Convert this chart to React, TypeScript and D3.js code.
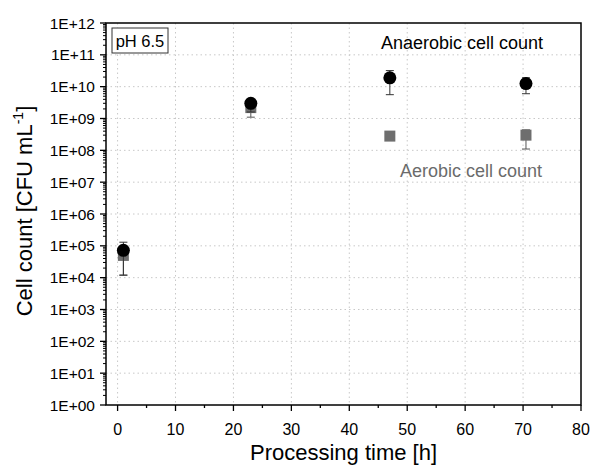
import React from "react";
import * as d3 from "d3";

const width = 592;
const height = 471;
const margin = { top: 23, right: 11, bottom: 66, left: 106 };

const times = [1, 23, 47, 70.5];
const anaerobic = [7.2e4, 3.0e9, 1.9e10, 1.25e10];
const anaerobicLow = [1.2e4, 1.6e9, 5.6e9, 6.0e9];
const anaerobicHigh = [1.3e5, 3.6e9, 3.2e10, 1.9e10];
const aerobic = [5.0e4, 2.2e9, 2.8e8, 3.0e8];
const aerobicLow = [1.2e4, 1.1e9, 2.6e8, 1.1e8];
const aerobicHigh = [8.0e4, 2.6e9, 3.0e8, 4.4e8];
const xTicks = [0, 10, 20, 30, 40, 50, 60, 70, 80];
const yExponents = d3.range(0, 13);

const font = "'Liberation Sans', Arial, sans-serif";

const App = () => {
  const x = d3
    .scaleLinear()
    .domain([-2, 80])
    .range([margin.left, width - margin.right]);
  const y = d3
    .scaleLog()
    .domain([1, 1e12])
    .range([height - margin.bottom, margin.top]);

  const bottom = height - margin.bottom;
  const minors = [];
  yExponents.slice(0, -1).forEach(e => {
    for (let k = 2; k <= 9; k++) minors.push(k * Math.pow(10, e));
  });
  const xMinors = d3.range(5, 80, 10);
  const fmt = e => "1E+" + (e < 10 ? "0" + e : e);

  return (
    <svg width={width} height={height} style={{ position: "absolute", left: 0, top: 0 }}>
      <rect width={width} height={height} fill="#fff" />
      {/* grid */}
      {xTicks.slice(0, -1).map(t => (
        <line key={"gx" + t} x1={x(t)} x2={x(t)} y1={margin.top} y2={bottom}
          stroke="#c8c8c8" strokeDasharray="1.5,3" />
      ))}
      {yExponents.slice(1, -1).map(e => (
        <line key={"gy" + e} x1={margin.left} x2={width - margin.right}
          y1={y(Math.pow(10, e))} y2={y(Math.pow(10, e))}
          stroke="#c8c8c8" strokeDasharray="1.5,3" />
      ))}
      {/* frame */}
      <rect x={margin.left} y={margin.top} width={width - margin.right - margin.left}
        height={bottom - margin.top} fill="none" stroke="#000" strokeWidth={1.5} />
      {/* x ticks */}
      {xTicks.map(t => (
        <g key={"xt" + t}>
          <line x1={x(t)} x2={x(t)} y1={bottom} y2={bottom + 6} stroke="#000" strokeWidth={1.3} />
          <text x={x(t)} y={bottom + 30} textAnchor="middle" fontFamily={font} fontSize={16}>{t}</text>
        </g>
      ))}
      {xMinors.map(t => (
        <line key={"xm" + t} x1={x(t)} x2={x(t)} y1={bottom} y2={bottom + 3} stroke="#000" strokeWidth={1.3} />
      ))}
      {/* y ticks */}
      {yExponents.map(e => (
        <g key={"yt" + e}>
          <line x1={margin.left - 6} x2={margin.left} y1={y(Math.pow(10, e))} y2={y(Math.pow(10, e))}
            stroke="#000" strokeWidth={1.3} />
          <text x={margin.left - 11} y={y(Math.pow(10, e)) + 5.5} textAnchor="end" fontFamily={font} fontSize={15.5}>
            {fmt(e)}
          </text>
        </g>
      ))}
      {minors.map((v, i) => (
        <line key={"ym" + i} x1={margin.left - 3} x2={margin.left} y1={y(v)} y2={y(v)} stroke="#000" strokeWidth={1} />
      ))}
      {/* aerobic */}
      {times.map((t, i) => (
        <g key={"ae" + i} stroke="#555" strokeWidth={1}>
          <line x1={x(t)} x2={x(t)} y1={y(aerobicLow[i])} y2={y(aerobicHigh[i])} />
          <line x1={x(t) - 4} x2={x(t) + 4} y1={y(aerobicLow[i])} y2={y(aerobicLow[i])} />
          <line x1={x(t) - 4} x2={x(t) + 4} y1={y(aerobicHigh[i])} y2={y(aerobicHigh[i])} />
          <rect x={x(t) - 5.5} y={y(aerobic[i]) - 5.5} width={11} height={11} fill="#6e6e6e" stroke="none" />
        </g>
      ))}
      {/* anaerobic */}
      {times.map((t, i) => (
        <g key={"an" + i} stroke="#333" strokeWidth={1}>
          <line x1={x(t)} x2={x(t)} y1={y(anaerobicLow[i])} y2={y(anaerobicHigh[i])} />
          <line x1={x(t) - 4} x2={x(t) + 4} y1={y(anaerobicLow[i])} y2={y(anaerobicLow[i])} />
          <line x1={x(t) - 4} x2={x(t) + 4} y1={y(anaerobicHigh[i])} y2={y(anaerobicHigh[i])} />
          <circle cx={x(t)} cy={y(anaerobic[i])} r={6.5} fill="#000" stroke="none" />
        </g>
      ))}
      {/* annotations */}
      <rect x={112} y={28} width={56} height={25} fill="#fff" stroke="#333" strokeWidth={1} />
      <text x={140} y={46.5} textAnchor="middle" fontFamily={font} fontSize={16.5}>pH 6.5</text>
      <text x={462} y={49} textAnchor="middle" fontFamily={font} fontSize={18} fill="#000">Anaerobic cell count</text>
      <text x={471} y={177} textAnchor="middle" fontFamily={font} fontSize={18} fill="#6b6b6b">Aerobic cell count</text>
      {/* axis titles */}
      <text x={(margin.left + width - margin.right) / 2} y={460} textAnchor="middle" fontFamily={font} fontSize={22}>
        Processing time [h]
      </text>
      <text transform={`translate(32,211) rotate(-90)`} textAnchor="middle"
        fontFamily={font} fontSize={22}>
        Cell count [CFU mL<tspan dy={-9} fontSize={14}>-1</tspan><tspan dy={9}>]</tspan>
      </text>
    </svg>
  );
};

export default App;
